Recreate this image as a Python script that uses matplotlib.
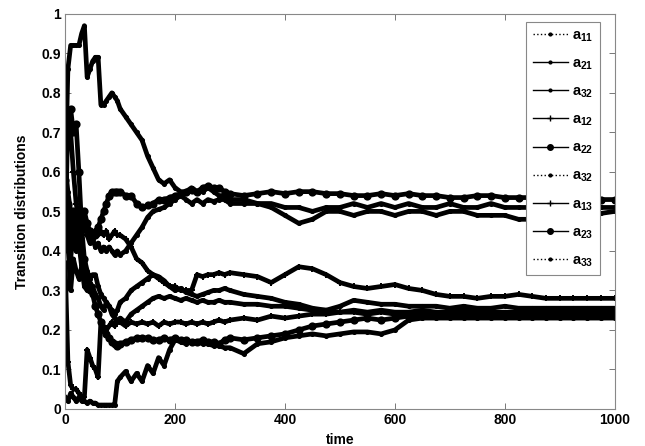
import matplotlib
matplotlib.use("Agg")
import matplotlib.pyplot as plt
from matplotlib.lines import Line2D
import numpy as np

plt.rcParams['font.family'] = ['Liberation Sans', 'DejaVu Sans']
plt.rcParams['font.weight'] = 'bold'
plt.rcParams['mathtext.fontset'] = 'custom'
plt.rcParams['mathtext.bf'] = 'Liberation Sans:bold'
plt.rcParams['mathtext.rm'] = 'Liberation Sans:bold'

# shared time grid
t = [0, 5, 10, 15, 20, 25, 30, 35, 40, 45, 50, 55, 60, 65, 70, 75, 80, 85, 90, 95, 100,
     110, 120, 130, 140, 150, 160, 170, 180, 190, 200, 210, 220, 230, 240, 250, 260, 270, 280, 290, 300,
     325, 350, 375, 400, 425, 450, 475, 500, 525, 550, 575, 600, 625, 650, 675, 700, 725, 750, 775, 800,
     825, 850, 875, 900, 925, 950, 975, 1000]

a11 = [0.57, 0.86, 0.92, 0.92, 0.92, 0.92, 0.95, 0.97, 0.84, 0.86, 0.88, 0.89, 0.89, 0.77, 0.77, 0.78, 0.79, 0.80, 0.79, 0.78, 0.76,
       0.74, 0.72, 0.70, 0.68, 0.64, 0.61, 0.58, 0.57, 0.58, 0.56, 0.55, 0.55, 0.56, 0.55, 0.55, 0.56, 0.55, 0.54, 0.54, 0.53,
       0.53, 0.52, 0.52, 0.51, 0.51, 0.50, 0.51, 0.51, 0.52, 0.51, 0.52, 0.51, 0.52, 0.51, 0.51, 0.52, 0.51, 0.51, 0.52, 0.51,
       0.51, 0.51, 0.51, 0.51, 0.51, 0.51, 0.51, 0.51]
a21 = [0.63, 0.50, 0.38, 0.45, 0.40, 0.42, 0.36, 0.38, 0.35, 0.33, 0.34, 0.34, 0.31, 0.29, 0.28, 0.27, 0.26, 0.25, 0.24, 0.25, 0.27,
       0.28, 0.30, 0.31, 0.32, 0.33, 0.34, 0.335, 0.325, 0.31, 0.30, 0.305, 0.295, 0.29, 0.285, 0.29, 0.295, 0.30, 0.30, 0.305, 0.30,
       0.29, 0.285, 0.28, 0.27, 0.265, 0.255, 0.25, 0.26, 0.275, 0.27, 0.265, 0.265, 0.26, 0.26, 0.26, 0.255, 0.26, 0.255, 0.255, 0.26,
       0.255, 0.255, 0.255, 0.255, 0.255, 0.255, 0.255, 0.255]
a32a = [0.50, 0.42, 0.30, 0.38, 0.35, 0.33, 0.36, 0.31, 0.30, 0.32, 0.31, 0.29, 0.28, 0.26, 0.25, 0.27, 0.26, 0.24, 0.23, 0.22, 0.23,
        0.22, 0.24, 0.25, 0.26, 0.27, 0.28, 0.285, 0.28, 0.285, 0.28, 0.275, 0.28, 0.275, 0.27, 0.275, 0.27, 0.27, 0.275, 0.27, 0.27,
        0.265, 0.265, 0.26, 0.26, 0.255, 0.25, 0.25, 0.245, 0.25, 0.245, 0.25, 0.245, 0.245, 0.25, 0.245, 0.245, 0.25, 0.245, 0.245, 0.245,
        0.245, 0.245, 0.25, 0.245, 0.245, 0.245, 0.245, 0.245]
a12 = [0.37, 0.12, 0.06, 0.05, 0.05, 0.04, 0.03, 0.03, 0.15, 0.13, 0.11, 0.10, 0.08, 0.22, 0.21, 0.20, 0.21, 0.22, 0.21, 0.22, 0.22,
       0.21, 0.22, 0.215, 0.22, 0.215, 0.22, 0.21, 0.22, 0.215, 0.22, 0.22, 0.215, 0.22, 0.215, 0.22, 0.215, 0.22, 0.225, 0.22, 0.225,
       0.23, 0.225, 0.235, 0.23, 0.235, 0.24, 0.24, 0.245, 0.245, 0.24, 0.245, 0.24, 0.24, 0.245, 0.24, 0.24, 0.245, 0.24, 0.24, 0.24,
       0.24, 0.24, 0.24, 0.24, 0.24, 0.24, 0.24, 0.24]
a22 = [0.48, 0.52, 0.46, 0.50, 0.47, 0.44, 0.46, 0.50, 0.47, 0.45, 0.44, 0.44, 0.46, 0.48, 0.50, 0.52, 0.54, 0.55, 0.55, 0.55, 0.55,
       0.54, 0.54, 0.52, 0.51, 0.515, 0.52, 0.53, 0.53, 0.535, 0.54, 0.545, 0.55, 0.555, 0.55, 0.56, 0.565, 0.56, 0.56, 0.55, 0.545,
       0.54, 0.545, 0.55, 0.545, 0.55, 0.55, 0.545, 0.545, 0.54, 0.54, 0.545, 0.54, 0.545, 0.54, 0.54, 0.535, 0.535, 0.54, 0.54, 0.535,
       0.535, 0.535, 0.535, 0.53, 0.53, 0.53, 0.53, 0.53]
a32b = [0.03, 0.02, 0.04, 0.03, 0.02, 0.03, 0.02, 0.02, 0.015, 0.02, 0.015, 0.015, 0.01, 0.01, 0.01, 0.01, 0.01, 0.01, 0.01, 0.07, 0.08,
        0.095, 0.07, 0.09, 0.07, 0.11, 0.09, 0.13, 0.11, 0.15, 0.175, 0.17, 0.165, 0.17, 0.17, 0.165, 0.165, 0.16, 0.16, 0.155, 0.155,
        0.14, 0.165, 0.17, 0.18, 0.185, 0.19, 0.185, 0.19, 0.195, 0.195, 0.19, 0.20, 0.225, 0.23, 0.23, 0.23, 0.23, 0.23, 0.23, 0.23,
        0.23, 0.23, 0.23, 0.23, 0.23, 0.23, 0.23, 0.23]
a13 = [0.40, 0.75, 0.70, 0.60, 0.52, 0.48, 0.45, 0.47, 0.44, 0.45, 0.43, 0.45, 0.44, 0.45, 0.44, 0.45, 0.43, 0.44, 0.45, 0.44, 0.44,
       0.43, 0.41, 0.38, 0.37, 0.35, 0.34, 0.33, 0.32, 0.31, 0.31, 0.30, 0.30, 0.30, 0.34, 0.335, 0.34, 0.34, 0.345, 0.34, 0.345,
       0.34, 0.335, 0.32, 0.34, 0.36, 0.355, 0.34, 0.32, 0.31, 0.305, 0.31, 0.315, 0.305, 0.30, 0.29, 0.285, 0.285, 0.28, 0.285, 0.285,
       0.29, 0.285, 0.28, 0.28, 0.28, 0.28, 0.28, 0.28]
a23 = [0.58, 0.72, 0.76, 0.70, 0.72, 0.60, 0.46, 0.38, 0.33, 0.30, 0.29, 0.26, 0.24, 0.22, 0.20, 0.19, 0.18, 0.17, 0.165, 0.16, 0.165,
       0.17, 0.175, 0.18, 0.18, 0.18, 0.175, 0.175, 0.18, 0.175, 0.18, 0.175, 0.175, 0.17, 0.17, 0.175, 0.17, 0.17, 0.165, 0.175, 0.18,
       0.175, 0.18, 0.185, 0.19, 0.20, 0.21, 0.215, 0.22, 0.225, 0.23, 0.225, 0.23, 0.235, 0.235, 0.235, 0.235, 0.235, 0.235, 0.235, 0.235,
       0.235, 0.235, 0.235, 0.235, 0.235, 0.235, 0.235, 0.235]
a33 = [0.62, 0.55, 0.50, 0.44, 0.47, 0.42, 0.45, 0.48, 0.44, 0.42, 0.43, 0.41, 0.42, 0.40, 0.41, 0.40, 0.41, 0.40, 0.39, 0.40, 0.39,
       0.40, 0.42, 0.44, 0.46, 0.485, 0.50, 0.505, 0.51, 0.52, 0.53, 0.54, 0.53, 0.52, 0.53, 0.52, 0.53, 0.525, 0.53, 0.53, 0.52,
       0.52, 0.52, 0.51, 0.49, 0.47, 0.48, 0.50, 0.50, 0.49, 0.50, 0.50, 0.49, 0.50, 0.50, 0.49, 0.50, 0.50, 0.49, 0.49, 0.49,
       0.48, 0.48, 0.485, 0.49, 0.49, 0.495, 0.495, 0.50]

labels = ['a$_{11}$', 'a$_{21}$', 'a$_{32}$', 'a$_{12}$', 'a$_{22}$', 'a$_{32}$', 'a$_{13}$', 'a$_{23}$', 'a$_{33}$']
series = [a11, a21, a32a, a12, a22, a32b, a13, a23, a33]
markers = ['.', '.', '.', '+', 'o', '.', '+', 'o', '.']
styles = [':', '-', '-', '-', '-', ':', '-', '-', ':']

fig = plt.figure(figsize=(6.45, 4.46), dpi=100)
ax = fig.add_axes([0.101, 0.083, 0.852, 0.886])

for s, m in zip(series, markers):
    ax.plot(t, s, color='black', lw=3.4, marker=m, ms=4.5, mew=1.4, zorder=2)

ax.set_xlim(0, 1000)
ax.set_ylim(0, 1)
ax.set_xticks([0, 200, 400, 600, 800, 1000])
ax.set_yticks([0, 0.1, 0.2, 0.3, 0.4, 0.5, 0.6, 0.7, 0.8, 0.9, 1])
ax.set_yticklabels(['0', '0.1', '0.2', '0.3', '0.4', '0.5', '0.6', '0.7', '0.8', '0.9', '1'])
ax.tick_params(direction='in', top=True, right=True, length=4, width=0.7, color='#777777',
               labelsize=10, pad=3)
for lab in ax.get_xticklabels() + ax.get_yticklabels():
    lab.set_fontweight('bold')
for sp in ax.spines.values():
    sp.set_color('#888888')
    sp.set_linewidth(0.8)

ax.set_xlabel('time', fontsize=10, fontweight='bold', labelpad=4)
ax.set_ylabel('Transition distributions', fontsize=10, fontweight='bold', labelpad=9)

handles = [Line2D([], [], color='black', lw=1.0, ls=st, marker=m, ms=4, mew=1.0)
           for m, st in zip(markers, styles)]
leg = ax.legend(handles, labels, loc='upper right', bbox_to_anchor=(0.973, 0.98),
                borderaxespad=0, fancybox=False, framealpha=1, edgecolor='#888888',
                fontsize=10.5, labelspacing=0.85, handlelength=2.4, handletextpad=0.3,
                borderpad=0.45)
leg.get_frame().set_linewidth(0.8)
for txt in leg.get_texts():
    txt.set_fontweight('bold')

fig.savefig('out.png', dpi=100)
